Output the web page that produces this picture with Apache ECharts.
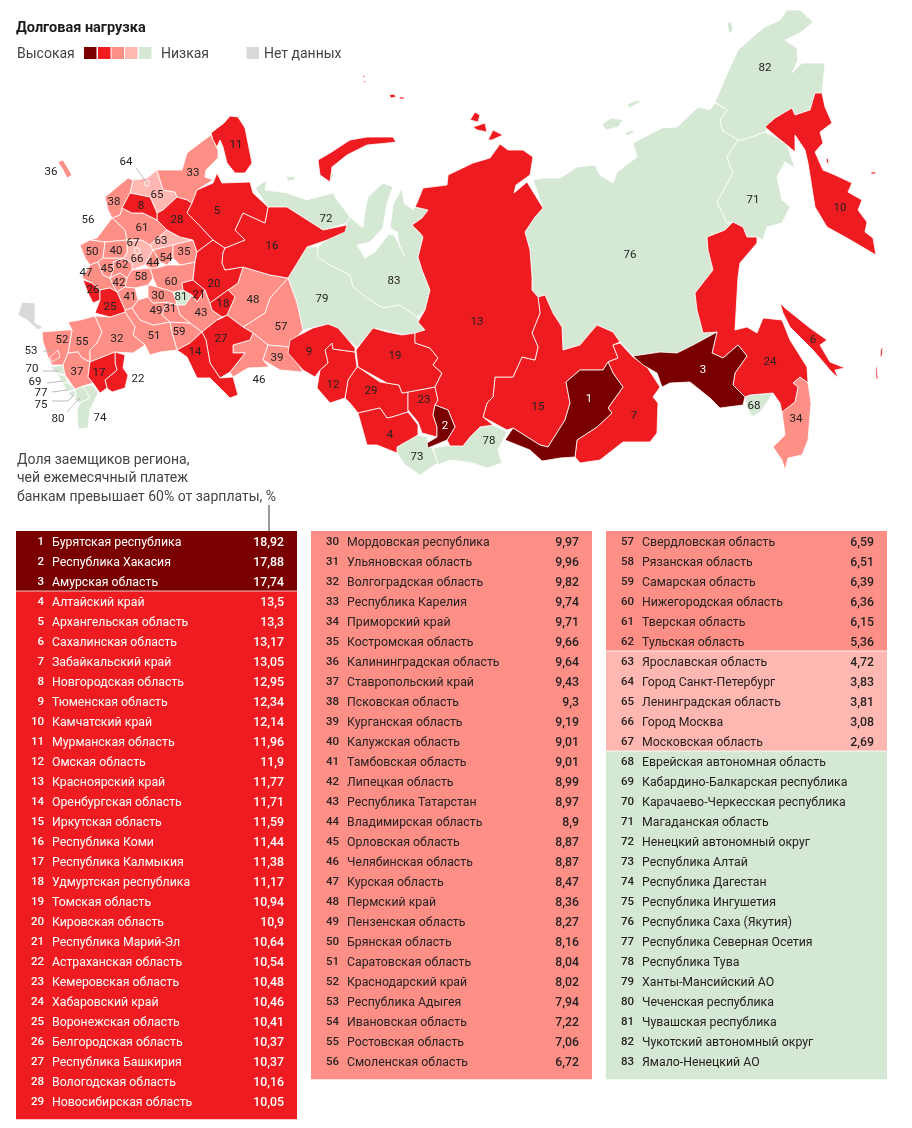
<!DOCTYPE html>
<html><head><meta charset="utf-8">
<style>html,body{margin:0;padding:0;background:#fff}#c{width:912px;height:1128px}</style>
<script src="https://cdn.jsdelivr.net/npm/echarts@6/dist/echarts.min.js"></script>
</head><body><div id="c"></div>
<script>
// ---------- data ----------
const regionNames = ["Бурятская республика","Республика Хакасия","Амурская область","Алтайский край","Архангельская область","Сахалинская область","Забайкальский край","Новгородская область","Тюменская область","Камчатский край","Мурманская область","Омская область","Красноярский край","Оренбургская область","Иркутская область","Республика Коми","Республика Калмыкия","Удмуртская республика","Томская область","Кировская область","Республика Марий-Эл","Астраханская область","Кемеровская область","Хабаровский край","Воронежская область","Белгородская область","Республика Башкирия","Вологодская область","Новосибирская область",
"Мордовская республика","Ульяновская область","Волгоградская область","Республика Карелия","Приморский край","Костромская область","Калининградская область","Ставропольский край","Псковская область","Курганская область","Калужская область","Тамбовская область","Липецкая область","Республика Татарстан","Владимирская область","Орловская область","Челябинская область","Курская область","Пермский край","Пензенская область","Брянская область","Саратовская область","Краснодарский край","Республика Адыгея","Ивановская область","Ростовская область","Смоленская область",
"Свердловская область","Рязанская область","Самарская область","Нижегородская область","Тверская область","Тульская область","Ярославская область","Город Санкт-Петербург","Ленинградская область","Город Москва","Московская область","Еврейская автономная область","Кабардино-Балкарская республика","Карачаево-Черкесская республика","Магаданская область","Ненецкий автономный округ","Республика Алтай","Республика Дагестан","Республика Ингушетия","Республика Саха (Якутия)","Республика Северная Осетия","Республика Тува","Ханты-Мансийский АО","Чеченская республика","Чувашская республика","Чукотский автономный округ","Ямало-Ненецкий АО"];
const shareValues = [18.92,17.88,17.74,13.5,13.3,13.17,13.05,12.95,12.34,12.14,11.96,11.9,11.77,11.71,11.59,11.44,11.38,11.17,10.94,10.9,10.64,10.54,10.48,10.46,10.41,10.37,10.37,10.16,10.05,
9.97,9.96,9.82,9.74,9.71,9.66,9.64,9.43,9.3,9.19,9.01,9.01,8.99,8.97,8.9,8.87,8.87,8.47,8.36,8.27,8.16,8.04,8.02,7.94,7.22,7.06,6.72,
6.59,6.51,6.39,6.36,6.15,5.36,4.72,3.83,3.81,3.08,2.69];
const columnFirstRank = [1,30,57];
const columnRowCount = [29,27,27];
const legendColors = ['#7a0000','#ee1c20','#fd8f87','#ffb8b1','#d5e8d3'];
const noDataColor = '#d9d9d9';
const tierFloors = [15,10,5,0];

// ---------- map shapes (drawn artwork of the regions, in page pixels) ----------
const regionRings = {
1:[[[608,362],[613,373],[623,387],[608,408],[612,413],[597,427],[577,440],[575,457],[560,458],[542,461],[530,450],[505,440],[513,428],[540,445],[548,447],[565,420],[570,403],[566,382],[580,370],[603,370]]],
2:[[[435,405],[448,410],[455,427],[447,440],[428,448],[427,443],[437,437],[437,427],[433,415]]],
3:[[[633,356],[660,352],[677,353],[693,345],[717,332],[712,353],[723,358],[738,345],[747,356],[735,373],[733,385],[745,397],[743,405],[720,408],[710,398],[690,382],[670,383],[662,387],[657,373],[643,365]]],
4:[[[358,413],[380,408],[387,418],[392,417],[408,412],[418,425],[418,435],[397,447],[397,453],[377,445],[367,445]]],
5:[[[197,190],[213,183],[217,173],[222,183],[250,182],[253,193],[268,207],[265,223],[243,213],[235,230],[245,240],[225,248],[213,240],[200,226],[187,213],[192,203]],[[318,160],[330,153],[350,140],[367,137],[393,137],[396,142],[388,143],[367,145],[347,155],[332,167],[330,182],[320,175]],[[389,95],[394,94],[396,97],[391,98]],[[399,97],[404,97],[404,99],[400,99]],[[362,75],[365,76],[364,78]],[[363,81],[366,81],[365,83]]],
6:[[[780,303],[785,308],[810,328],[827,340],[820,345],[830,362],[845,368],[835,370],[838,378],[830,370],[813,350],[790,327],[783,313]],[[883,347],[882,356],[880,357],[881,349]],[[877,365],[878,380],[876,378],[876,368]]],
7:[[[620,343],[633,357],[647,367],[660,387],[653,397],[658,403],[657,433],[650,442],[623,442],[600,460],[580,463],[575,457],[577,440],[597,427],[612,413],[608,408],[623,387],[613,373],[608,362],[618,358],[613,345]]],
8:[[[122,208],[130,193],[150,197],[157,213],[157,220],[143,213],[132,213]]],
9:[[[290,340],[313,328],[328,324],[338,328],[355,348],[355,352],[333,349],[332,343],[325,350],[328,363],[320,370],[315,377],[303,370],[288,353]]],
10:[[[815,93],[822,93],[825,107],[832,123],[820,132],[823,143],[815,152],[823,170],[835,175],[852,183],[848,192],[862,200],[858,210],[867,222],[865,232],[873,238],[876,255],[847,238],[827,227],[815,207],[808,163],[805,150],[795,135],[795,152],[787,145],[778,138],[765,127],[775,118],[792,108],[795,115],[810,110]],[[826,159],[828,158],[829,164],[827,163]],[[871,172],[876,172],[875,174],[871,174]],[[877,263],[878,263],[878,270],[877,270]]],
11:[[[211,133],[224,123],[230,116],[238,117],[245,128],[248,143],[252,163],[245,173],[235,173],[227,163],[223,147],[220,140],[217,147],[213,140]]],
12:[[[325,350],[332,343],[333,349],[355,352],[357,367],[348,380],[345,398],[330,403],[317,388],[320,370],[328,363]]],
13:[[[423,188],[447,185],[448,175],[473,163],[490,158],[500,144],[508,150],[523,150],[533,157],[530,175],[516,185],[514,193],[527,182],[543,208],[535,217],[525,232],[530,250],[532,277],[532,290],[538,297],[540,313],[532,333],[538,347],[535,360],[522,357],[513,377],[495,377],[493,397],[487,403],[483,417],[493,425],[480,427],[470,437],[463,446],[450,446],[447,440],[455,427],[448,410],[435,405],[438,400],[435,387],[442,373],[433,365],[438,358],[430,348],[415,343],[415,333],[425,330],[418,322],[425,310],[430,290],[422,270],[418,257],[423,237],[420,233],[412,225],[422,218],[428,210],[415,207],[417,203]],[[470,120],[475,112],[480,115],[478,122]],[[473,127],[485,123],[487,132],[477,130]],[[488,140],[493,130],[503,135],[492,140]]],
14:[[[202,332],[206,340],[210,363],[220,378],[233,377],[238,395],[230,398],[217,385],[210,378],[197,378],[187,357],[177,350],[190,343]]],
15:[[[538,297],[545,295],[553,313],[562,327],[563,350],[580,345],[590,333],[597,325],[613,332],[620,342],[613,345],[618,358],[608,362],[603,370],[580,370],[566,382],[570,403],[565,420],[548,447],[540,445],[513,428],[507,430],[483,417],[487,403],[493,397],[495,377],[513,377],[522,357],[535,360],[538,347],[532,333],[540,313]]],
16:[[[268,207],[287,207],[323,230],[347,225],[345,232],[327,240],[307,247],[288,278],[270,275],[243,267],[225,270],[222,263],[223,253],[225,248],[245,240],[235,230],[243,213],[265,223]]],
17:[[[90,362],[115,352],[115,363],[117,370],[105,380],[107,388],[100,393],[93,383],[88,377]]],
18:[[[210,303],[228,290],[235,297],[227,315],[222,317],[212,310]]],
19:[[[356,350],[373,328],[387,332],[402,335],[415,333],[415,343],[430,348],[438,358],[433,365],[442,373],[435,387],[408,392],[402,393],[399,385],[387,383],[358,367]]],
20:[[[197,252],[213,240],[225,248],[223,253],[222,263],[225,270],[243,267],[238,283],[228,290],[210,303],[205,290],[193,280],[195,262]]],
21:[[[183,290],[182,283],[193,280],[205,290],[197,302],[192,295]]],
22:[[[115,352],[125,355],[123,368],[128,375],[125,388],[112,392],[107,388],[105,380],[117,370],[115,363]]],
23:[[[408,392],[435,387],[438,400],[435,405],[433,415],[437,427],[437,437],[422,433],[418,422],[408,410]]],
24:[[[707,237],[725,230],[733,222],[743,227],[747,237],[757,237],[757,243],[740,263],[738,277],[735,330],[747,327],[757,333],[763,318],[782,320],[790,340],[807,367],[808,383],[800,377],[793,383],[798,387],[795,402],[782,412],[780,403],[773,393],[750,395],[745,397],[733,385],[735,373],[747,356],[738,345],[723,358],[712,353],[717,332],[703,333],[697,310],[695,293],[713,270],[708,250]]],
25:[[[100,290],[110,288],[117,292],[125,310],[125,312],[110,317],[95,313],[100,300]]],
26:[[[83,280],[92,283],[100,290],[100,300],[93,303],[88,293]]],
27:[[[222,318],[227,315],[243,327],[253,333],[250,340],[233,345],[233,353],[245,353],[230,372],[220,378],[210,363],[206,340],[202,332],[217,320]]],
28:[[[157,213],[163,210],[177,197],[187,200],[192,203],[187,213],[200,226],[213,240],[197,252],[193,240],[180,237],[167,230],[157,220]]],
29:[[[358,367],[380,382],[399,385],[402,393],[408,392],[408,412],[392,417],[387,418],[380,408],[358,413],[350,403],[345,398],[348,380],[357,367]]],
30:[[[148,285],[157,287],[167,290],[173,292],[175,298],[177,305],[167,302],[153,303],[148,297]]],
31:[[[167,302],[177,305],[180,315],[190,323],[170,322],[162,315]]],
32:[[[110,317],[125,312],[135,327],[133,335],[145,345],[133,353],[115,352],[90,362],[90,350],[97,343],[102,332],[95,316]]],
33:[[[211,135],[218,150],[218,158],[206,170],[205,177],[213,180],[197,190],[192,203],[187,200],[177,197],[175,192],[163,190],[157,170],[182,170],[187,153],[200,143]]],
34:[[[800,377],[808,383],[811,403],[808,440],[802,455],[788,458],[785,470],[782,460],[773,447],[785,435],[782,412],[795,402],[798,387],[793,383]]],
35:[[[173,245],[193,240],[197,252],[195,262],[180,265],[173,258]]],
36:[[[58,162],[63,160],[72,175],[67,178],[63,170]]],
37:[[[68,353],[78,352],[82,358],[90,362],[88,377],[93,383],[83,386],[75,389],[65,375],[63,365]]],
38:[[[105,197],[128,178],[133,180],[130,193],[122,208],[120,215],[112,218],[108,210]]],
39:[[[268,345],[289,347],[290,350],[303,372],[280,370],[263,360]]],
40:[[[105,242],[127,240],[127,253],[123,258],[103,258]]],
41:[[[117,292],[125,287],[135,288],[138,300],[132,308],[125,310]]],
42:[[[110,278],[120,273],[127,278],[125,287],[117,292],[113,285]]],
43:[[[197,302],[205,290],[210,303],[212,310],[222,317],[217,320],[202,332],[190,323],[180,315],[177,305],[185,305],[192,295]]],
44:[[[145,265],[153,250],[160,262],[157,268],[150,268]]],
45:[[[98,262],[103,258],[123,258],[113,262],[113,270],[110,278],[103,275]]],
46:[[[253,333],[268,345],[263,360],[269,367],[248,368],[233,377],[230,372],[245,353],[233,353],[233,345],[250,340]]],
47:[[[82,278],[90,265],[98,262],[103,275],[110,278],[113,285],[117,292],[110,288],[100,290],[92,283]]],
48:[[[243,267],[270,275],[288,278],[270,298],[265,313],[243,327],[227,315],[235,297],[228,290],[238,283]]],
49:[[[138,300],[148,297],[153,303],[167,302],[162,315],[170,322],[153,325],[140,320],[132,308]]],
50:[[[80,245],[90,240],[105,242],[103,258],[98,262],[90,265],[85,258]]],
51:[[[125,312],[125,310],[132,308],[140,320],[153,325],[170,322],[172,333],[177,350],[160,352],[150,355],[145,345],[133,335],[135,327]]],
52:[[[42,332],[67,330],[72,330],[68,353],[63,365],[52,365],[48,357],[43,342]]],
53:[[[50,357],[58,350],[60,357],[52,362]]],
54:[[[153,250],[173,245],[173,258],[167,265],[160,262]]],
55:[[[68,322],[80,320],[95,316],[102,332],[97,343],[90,350],[90,362],[82,358],[78,352],[68,353],[72,330]]],
56:[[[97,238],[112,218],[125,230],[127,240],[105,242],[90,240]]],
57:[[[288,278],[297,303],[303,330],[289,347],[268,345],[253,333],[243,327],[265,313],[270,298]]],
58:[[[127,278],[132,270],[150,268],[153,278],[148,285],[135,288],[125,287]]],
59:[[[170,322],[190,323],[202,332],[190,343],[177,350],[172,333]]],
60:[[[157,268],[167,265],[180,265],[195,262],[193,280],[182,283],[183,290],[173,292],[167,290],[157,287],[153,278],[150,268]]],
61:[[[112,218],[120,215],[122,208],[132,213],[143,213],[157,220],[167,230],[155,240],[150,245],[142,240],[127,240],[125,230]]],
62:[[[113,262],[123,258],[132,263],[132,270],[127,278],[120,273],[110,278],[113,270]]],
63:[[[167,230],[180,237],[193,240],[173,245],[153,250],[150,245],[155,240]]],
64:[[[145,181],[149,181],[149,186],[145,186]]],
65:[[[133,180],[147,178],[157,170],[163,190],[175,192],[177,197],[163,210],[157,213],[150,197],[130,193]]],
66:[[[134,248],[139,248],[140,253],[135,254]]],
67:[[[127,240],[142,240],[150,245],[153,250],[145,265],[132,270],[132,263],[123,258],[127,253]]],
68:[[[745,397],[750,395],[773,393],[762,410],[753,417],[747,408]]],
69:[[[57,374],[65,376],[68,383],[62,382]]],
70:[[[50,367],[63,365],[65,375],[57,373]]],
71:[[[738,140],[743,140],[765,132],[778,138],[787,145],[795,168],[785,162],[777,177],[782,200],[790,207],[782,223],[767,227],[763,240],[757,237],[747,237],[743,227],[733,222],[727,223],[717,202],[733,173],[727,157]]],
72:[[[255,188],[267,180],[265,190],[287,193],[307,200],[317,197],[333,193],[337,200],[347,213],[350,217],[347,223],[323,230],[287,207],[268,207]],[[286,177],[294,176],[295,180],[288,181]],[[330,170],[334,175],[331,180]]],
73:[[[397,447],[418,435],[428,437],[427,443],[433,450],[438,463],[420,475],[405,465],[397,453]]],
74:[[[83,386],[93,385],[98,393],[90,410],[88,428],[78,429],[77,410],[80,403],[90,398]]],
75:[[[68,393],[74,390],[76,395],[72,397]]],
76:[[[533,180],[543,178],[560,178],[577,167],[595,165],[600,175],[613,183],[617,172],[637,157],[633,143],[662,128],[677,127],[698,107],[710,110],[715,103],[727,110],[720,120],[722,130],[738,140],[727,157],[733,173],[717,202],[727,223],[733,222],[725,230],[707,237],[708,250],[713,270],[695,293],[697,310],[703,333],[717,332],[693,345],[677,353],[660,352],[633,356],[620,342],[613,332],[597,325],[590,333],[580,345],[563,350],[562,327],[553,313],[545,295],[538,297],[532,290],[532,277],[530,250],[525,232],[535,217],[543,208]],[[602,124],[611,118],[623,120],[618,127],[606,130]],[[627,104],[638,100],[640,102],[630,108]],[[625,133],[632,130],[634,132],[627,136]],[[727,23],[731,21],[733,30],[729,34]]],
77:[[[62,382],[68,383],[75,389],[67,392]]],
78:[[[433,448],[445,446],[463,446],[470,437],[480,427],[493,425],[507,432],[498,450],[502,463],[487,468],[473,463],[450,460],[438,465]]],
79:[[[288,278],[307,247],[318,247],[317,257],[333,267],[350,275],[353,287],[367,298],[383,308],[400,305],[417,317],[420,323],[425,332],[403,335],[375,328],[357,347],[328,324],[303,330],[297,303]]],
80:[[[75,389],[83,386],[90,398],[80,403],[75,400],[76,395]]],
81:[[[175,298],[173,292],[183,290],[192,295],[185,305],[177,305]]],
82:[[[715,102],[728,72],[738,50],[763,28],[780,20],[787,10],[800,10],[813,22],[800,33],[785,40],[797,48],[798,60],[792,73],[802,63],[825,63],[822,93],[815,93],[810,110],[795,115],[792,108],[775,118],[765,132],[743,140],[738,140],[722,130],[720,120],[727,110]]],
83:[[[318,247],[347,223],[350,217],[363,228],[365,210],[368,197],[383,183],[393,187],[387,203],[383,228],[370,242],[357,245],[365,258],[375,252],[388,235],[393,234],[397,240],[405,257],[400,248],[397,232],[390,228],[393,205],[402,188],[404,203],[413,210],[417,203],[415,207],[428,210],[422,218],[412,225],[420,233],[423,237],[418,257],[422,270],[430,290],[425,310],[417,317],[400,305],[383,308],[367,298],[353,287],[350,275],[333,267],[317,257]]],
"Нет данных":[[[18,315],[22,302],[35,303],[35,323],[43,327],[38,330],[27,320]]]
};
const labelAt = {1:[589,399],2:[445,426],3:[703,370],4:[390,435],5:[217,211],6:[813,340],7:[634,416],8:[141,206],9:[309,352],10:[840,208],11:[236,145],12:[333,385],13:[477,322],14:[195,352],15:[538,407],16:[272,246],17:[99,373],18:[223,304],19:[395,356],20:[214,284],21:[199,295],22:[138,379],23:[424,400],24:[770,362],25:[110,307],26:[93,290],27:[221,339],28:[177,220],29:[371,391],30:[158,296],31:[170,309],32:[117,339],33:[193,173],34:[796,419],35:[184,252],36:[51,172],37:[77,372],38:[114,202],39:[277,358],40:[116,251],41:[130,297],42:[119,283],43:[201,313],44:[153,263],45:[107,269],46:[259,380],47:[86,273],48:[253,300],49:[156,311],50:[92,252],51:[154,336],52:[62,340],53:[31,351],54:[166,258],55:[82,342],56:[88,220],57:[281,327],58:[141,277],59:[179,332],60:[171,282],61:[142,228],62:[122,265],63:[161,241],64:[126,162],65:[157,195],66:[137,259],67:[133,243],68:[754,406],69:[35,382],70:[32,369],71:[753,200],72:[326,219],73:[417,457],74:[100,418],75:[41,405],76:[630,255],77:[41,393],78:[489,441],79:[322,299],80:[58,419],81:[181,297],82:[765,68],83:[394,281]};
const leaderLines = [[[136,168],[147,183]],[[43,351],[53,351]],[[43,371],[58,371]],[[47,383],[63,381]],[[52,392],[67,390]],[[52,401],[68,401],[74,395]],[[67,412],[80,398]]];

// ---------- helpers ----------
const tierColor = v => v == null ? legendColors[4] : legendColors[tierFloors.findIndex(f => v >= f)];
const flip = p => [p[0], -p[1]];
const drawLast = ['53','64','66','Нет данных'];
const keys = Object.keys(regionRings).sort((a,b) => {
  const la = drawLast.includes(a), lb = drawLast.includes(b);
  if (la !== lb) return la ? 1 : -1;
  return (+b) - (+a);
});
const features = keys.map(k => ({
  type:'Feature',
  properties:{name:k, cp: labelAt[k] ? flip(labelAt[k]) : undefined},
  geometry:{type:'MultiPolygon', coordinates: regionRings[k].map(r => {
    const c = r.map(flip); c.push(c[0]); return [c];
  })}
}));
echarts.registerMap('ru', {type:'FeatureCollection', features});
let minX=1e9,maxX=-1e9,minY=1e9,maxY=-1e9;
Object.values(regionRings).forEach(g => g.forEach(r => r.forEach(([x,y]) => {
  minX=Math.min(minX,x);maxX=Math.max(maxX,x);minY=Math.min(minY,y);maxY=Math.max(maxY,y);
})));

const font = 'Roboto, "Noto Sans", sans-serif';
const mapData = regionNames.map((n,i) => {
  const v = shareValues[i];
  return {name:String(i+1), value: v == null ? 0 : v,
    itemStyle:{areaColor:tierColor(v)},
    label:{color: i < 3 ? '#fff' : '#222'}};
});
mapData.push({name:'Нет данных', value:0, itemStyle:{areaColor:noDataColor}, label:{show:false}});

// ---------- table columns ----------
const colLeft = [16,311,606];
const colWidth = 281, rowH = 20, tableTop = 531, tail = 0.4;
const grids = [], xAxes = [], yAxes = [], tableSeries = [];
columnFirstRank.forEach((first, c) => {
  const n = columnRowCount[c];
  grids.push({left:colLeft[c], top:tableTop, width:colWidth, height:(n+tail)*rowH, containLabel:false});
  xAxes.push({type:'value', gridIndex:c, min:0, max:1, show:false});
  yAxes.push({type:'value', gridIndex:c, min:0, max:n+tail, inverse:true, show:false});
  const rows = [];
  for (let i=0;i<n;i++){ rows.push([i, first+i]); }
  tableSeries.push({
    type:'custom', xAxisIndex:c, yAxisIndex:c, silent:true, clip:false,
    data:rows, encode:{x:[],y:0},
    renderItem:(params, api) => {
      const i = api.value(0), rank = api.value(1);
      const v = shareValues[rank-1];
      const color = tierColor(v);
      const prev = rank > 1 ? tierColor(shareValues[rank-2]) : null;
      const isLast = i === n-1;
      const tl = api.coord([0,i]), br = api.coord([1, isLast ? i+1+tail : i+1]);
      const bottomOfRow = api.coord([0,i+1]);
      const cy = (tl[1]+bottomOfRow[1])/2 + 1.5;
      const light = color === legendColors[0] || color === legendColors[1];
      const fg = light ? '#fff' : '#262222';
      const kids = [{type:'rect', shape:{x:tl[0],y:tl[1],width:br[0]-tl[0],height:br[1]-tl[1]+0.3}, style:{fill:color}}];
      if (i>0 && prev !== color) kids.push({type:'rect', shape:{x:tl[0],y:tl[1]-0.5,width:br[0]-tl[0],height:1}, style:{fill:'rgba(255,255,255,0.75)'}});
      kids.push({type:'text', style:{text:String(rank), x:tl[0]+28, y:cy, align:'right', verticalAlign:'middle', fill:fg, font:'500 11.5px '+font}});
      kids.push({type:'text', style:{text:regionNames[rank-1], x:tl[0]+36, y:cy, align:'left', verticalAlign:'middle', fill:fg, font:'400 12.3px '+font}});
      if (v != null) kids.push({type:'text', style:{text:String(v).replace('.',','), x:tl[0]+268, y:cy, align:'right', verticalAlign:'middle', fill:fg, font:'500 12.3px '+font}});
      return {type:'group', children:kids};
    }
  });
});

// ---------- legend, captions, leader lines ----------
const legendBoxes = [84,98,111.5,125,139];
const graphics = [];
legendColors.forEach((col,i) => graphics.push({type:'rect', shape:{x:legendBoxes[i],y:47,width:12.5,height:12}, style:{fill:col}, silent:true}));
graphics.push({type:'rect', shape:{x:246.5,y:47,width:12.5,height:12}, style:{fill:noDataColor}, silent:true});
const cap = (t,x,y,size,col) => ({type:'text', style:{text:t,x,y,fill:col||'#444',font:'400 '+(size||14)+'px '+font,verticalAlign:'middle'}, silent:true});
graphics.push(cap('Высокая',17,54), cap('Низкая',161,54), cap('Нет данных',264,54));
graphics.push(cap('Доля заемщиков региона,',17,460.5,14), cap('чей ежемесячный платеж',17,478.5,14), cap('банкам превышает 60% от зарплаты, %',17,497,14));
graphics.push({type:'line', shape:{x1:269,y1:505,x2:269,y2:531}, style:{stroke:'#333',lineWidth:1}, silent:true});
leaderLines.forEach(pts => graphics.push({type:'polyline', shape:{points:pts}, style:{stroke:'#aaa',lineWidth:0.8,fill:null}, silent:true, z:200}));

const chart = echarts.init(document.getElementById('c'), null, {renderer:'canvas'});
chart.setOption({
  animation:false, backgroundColor:'#fff',
  title:{text:'Долговая нагрузка', left:11, top:16, textStyle:{fontFamily:font, fontSize:14.5, fontWeight:700, color:'#1c1c1c'}},
  grid:grids, xAxis:xAxes, yAxis:yAxes,
  graphic:graphics,
  series:[{
    type:'map', map:'ru', roam:false, silent:true, selectedMode:false,
    aspectScale:1, left:minX, top:minY, width:maxX-minX, height:maxY-minY,
    itemStyle:{areaColor:legendColors[4], borderColor:'#fff', borderWidth:0.8},
    emphasis:{disabled:true},
    label:{show:true, fontFamily:font, fontSize:11.5, color:'#222', fontWeight:400, formatter:p=>p.name},
    data:mapData
  }].concat(tableSeries)
});
</script></body></html>
